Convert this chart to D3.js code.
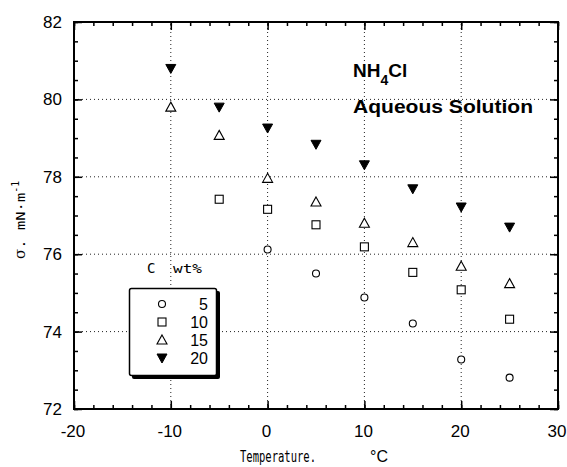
<!DOCTYPE html>
<html>
<head>
<meta charset="utf-8">
<script src="https://cdn.jsdelivr.net/npm/d3@7"></script>
<style>
  body { margin: 0; background: #fff; }
</style>
</head>
<body>
<div id="chart"></div>
<script>
// temperatures (degC) and surface tension (mN/m) per concentration
var temps = [-10, -5, 0, 5, 10, 15, 20, 25];
var conc_labels = ["5", "10", "15", "20"];
var sigma_5  = [null, null, 76.12, 75.50, 74.88, 74.21, 73.28, 72.81];
var sigma_10 = [null, 77.42, 77.16, 76.76, 76.19, 75.53, 75.08, 74.32];
var sigma_15 = [79.80, 79.07, 77.96, 77.35, 76.80, 76.30, 75.69, 75.24];
var sigma_20 = [80.80, 79.80, 79.26, 78.84, 78.31, 77.69, 77.22, 76.70];
var x_ticks = [-20, -10, 0, 10, 20, 30];
var y_ticks = [72, 74, 76, 78, 80, 82];

var series = [sigma_5, sigma_10, sigma_15, sigma_20];
var shapes = ["circle", "square", "triangle", "down"];

var width = 567, height = 467;
var margin = {top: 22, right: 9, bottom: 58, left: 74};

var svg = d3.select("#chart")
  .append("svg")
  .attr("width", width)
  .attr("height", height);

var x = d3.scaleLinear().domain([-20, 30]).range([margin.left, width - margin.right]);
var y = d3.scaleLinear().domain([72, 82]).range([height - margin.bottom, margin.top]);

// dotted grid at major ticks
svg.append("g").selectAll("line")
  .data(x_ticks.slice(1, -1)).enter()
  .append("line")
  .attr("x1", function(d) { return x(d); })
  .attr("x2", function(d) { return x(d); })
  .attr("y1", y(72)).attr("y2", y(82))
  .attr("stroke", "#222").attr("stroke-width", 1)
  .style("stroke-dasharray", "1,3");
svg.append("g").selectAll("line")
  .data(y_ticks.slice(1, -1)).enter()
  .append("line")
  .attr("y1", function(d) { return y(d); })
  .attr("y2", function(d) { return y(d); })
  .attr("x1", x(-20)).attr("x2", x(30))
  .attr("stroke", "#222").attr("stroke-width", 1)
  .style("stroke-dasharray", "1,3");

// axes with inward ticks on all four sides
function addAxis(axis, tx, ty) {
  var g = svg.append("g")
    .attr("transform", "translate(" + tx + "," + ty + ")")
    .call(axis);
  g.select(".domain").remove();
  g.selectAll("line").attr("stroke", "#000").attr("stroke-width", 1.5);
  return g;
}
var xMinor = d3.range(-20, 30.01, 2);
var yMinor = d3.range(72, 82.01, 0.5);

addAxis(d3.axisTop(x).tickValues(xMinor).tickSize(4).tickFormat(""), 0, y(72));
addAxis(d3.axisTop(x).tickValues(x_ticks).tickSize(8).tickFormat(""), 0, y(72));
addAxis(d3.axisBottom(x).tickValues(xMinor).tickSize(4).tickFormat(""), 0, y(82));
addAxis(d3.axisBottom(x).tickValues(x_ticks).tickSize(8).tickFormat(""), 0, y(82));
addAxis(d3.axisRight(y).tickValues(yMinor).tickSize(4).tickFormat(""), x(-20), 0);
addAxis(d3.axisRight(y).tickValues(y_ticks).tickSize(8).tickFormat(""), x(-20), 0);
addAxis(d3.axisLeft(y).tickValues(yMinor).tickSize(4).tickFormat(""), x(30), 0);
addAxis(d3.axisLeft(y).tickValues(y_ticks).tickSize(8).tickFormat(""), x(30), 0);

// frame
svg.append("rect")
  .attr("x", x(-20)).attr("y", y(82))
  .attr("width", x(30) - x(-20)).attr("height", y(72) - y(82))
  .attr("fill", "none").attr("stroke", "#000").attr("stroke-width", 2);

// tick labels
svg.append("g").selectAll("text")
  .data(x_ticks).enter()
  .append("text")
  .attr("x", function(d) { return x(d) - 1; })
  .attr("y", y(72) + 28)
  .attr("text-anchor", "middle")
  .style("font-family", "Liberation Sans, Arial, sans-serif")
  .style("font-size", "17px")
  .text(function(d) { return d; });
svg.append("g").selectAll("text")
  .data(y_ticks).enter()
  .append("text")
  .attr("x", x(-20) - 12)
  .attr("y", function(d) { return y(d) + 6; })
  .attr("text-anchor", "end")
  .style("font-family", "Liberation Sans, Arial, sans-serif")
  .style("font-size", "17px")
  .text(function(d) { return d; });

// axis titles
svg.append("text")
  .attr("x", 240).attr("y", 462)
  .attr("textLength", 76).attr("lengthAdjust", "spacingAndGlyphs")
  .style("font-family", "DejaVu Sans Mono, monospace")
  .style("font-size", "16px")
  .text("Temperature.");
svg.append("text")
  .attr("x", 370).attr("y", 462)
  .style("font-family", "Liberation Sans, Arial, sans-serif")
  .style("font-size", "16px")
  .text("°C");

var ylab = svg.append("text")
  .attr("transform", "translate(25,259) rotate(-90)")
  .style("font-family", "DejaVu Sans Mono, monospace")
  .style("font-size", "13px");
ylab.append("tspan").style("font-family", "DejaVu Serif, serif").style("font-size", "15px").text("σ");
ylab.append("tspan").attr("textLength", 56).attr("lengthAdjust", "spacingAndGlyphs").text(".  mN·m");
ylab.append("tspan").attr("dy", -6).style("font-size", "10px").text("-1");

// marker drawing
function drawMarker(g, shape, cx, cy) {
  if (shape == "circle") {
    g.append("circle").attr("cx", cx).attr("cy", cy).attr("r", 3.5)
      .attr("fill", "#fff").attr("stroke", "#000").attr("stroke-width", 1.1);
  } else if (shape == "square") {
    g.append("rect").attr("x", cx - 4).attr("y", cy - 4).attr("width", 8).attr("height", 8)
      .attr("fill", "#fff").attr("stroke", "#000").attr("stroke-width", 1.1);
  } else if (shape == "triangle") {
    g.append("path")
      .attr("d", "M" + cx + "," + (cy - 5) + "L" + (cx + 5) + "," + (cy + 4) + "L" + (cx - 5) + "," + (cy + 4) + "Z")
      .attr("fill", "#fff").attr("stroke", "#000").attr("stroke-width", 1.1);
  } else {
    g.append("path")
      .attr("d", "M" + (cx - 5) + "," + (cy - 4) + "L" + (cx + 5) + "," + (cy - 4) + "L" + cx + "," + (cy + 5) + "Z")
      .attr("fill", "#000").attr("stroke", "#000").attr("stroke-width", 1);
  }
}

var pts = svg.append("g");
series.forEach(function(s, k) {
  s.forEach(function(v, i) {
    if (v === null) return;
    drawMarker(pts, shapes[k], x(temps[i]), y(v));
  });
});

// title
var t1 = svg.append("text")
  .attr("x", 353).attr("y", 77)
  .style("font-family", "Liberation Sans, Arial, sans-serif")
  .style("font-weight", "bold")
  .style("font-size", "19px");
t1.append("tspan").text("NH");
t1.append("tspan").attr("dy", 8).style("font-size", "14px").text("4");
t1.append("tspan").attr("dy", -8).text("Cl");
svg.append("text")
  .attr("x", 353).attr("y", 113)
  .attr("textLength", 180).attr("lengthAdjust", "spacingAndGlyphs")
  .style("font-family", "Liberation Sans, Arial, sans-serif")
  .style("font-weight", "bold")
  .style("font-size", "19px")
  .text("Aqueous Solution");

// legend
svg.append("text")
  .attr("x", 147).attr("y", 273)
  .style("font-family", "DejaVu Sans Mono, monospace")
  .style("font-size", "14px")
  .text("C");
svg.append("text")
  .attr("x", 173).attr("y", 273)
  .attr("textLength", 29).attr("lengthAdjust", "spacingAndGlyphs")
  .style("font-family", "DejaVu Sans Mono, monospace")
  .style("font-size", "12px")
  .text("wt%");

svg.append("rect")
  .attr("x", 132).attr("y", 291).attr("width", 88).attr("height", 88)
  .attr("rx", 2).attr("fill", "#000");
svg.append("rect")
  .attr("x", 129.5).attr("y", 288.5).attr("width", 87).attr("height", 87)
  .attr("rx", 2).attr("fill", "#fff").attr("stroke", "#000").attr("stroke-width", 1.5);

var leg = svg.append("g");
conc_labels.forEach(function(c, k) {
  var ly = 304 + k * 18;
  drawMarker(leg, shapes[k], 162, ly);
  leg.append("text")
    .attr("x", 208).attr("y", ly + 6)
    .attr("text-anchor", "end")
    .style("font-family", "Liberation Sans Narrow, Liberation Sans, Arial, sans-serif")
    .style("font-size", "16px")
    .text(c);
});
</script>
</body>
</html>
